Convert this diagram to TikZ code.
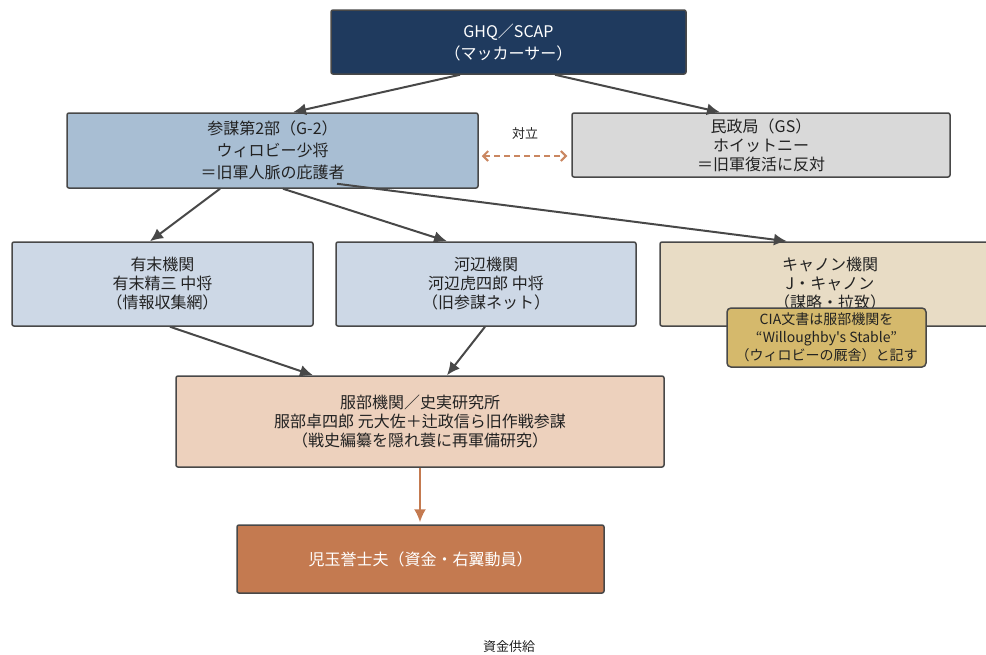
\documentclass[tikz,border=0pt]{standalone}
\usepackage{fontspec}
\setmainfont{Noto Sans CJK JP}[Ligatures=TeXOff]
\usetikzlibrary{arrows.meta}
\definecolor{navy}{HTML}{1F3A5E}
\definecolor{steel}{HTML}{A8BED3}
\definecolor{lightgray}{HTML}{D9D9D9}
\definecolor{paleblue}{HTML}{CDD8E6}
\definecolor{sand}{HTML}{E8DCC5}
\definecolor{ochre}{HTML}{D5B96C}
\definecolor{peach}{HTML}{EDD1BD}
\definecolor{rust}{HTML}{C47A50}
\definecolor{edgegray}{HTML}{484848}
\definecolor{textdark}{HTML}{222222}
\begin{document}
\begin{tikzpicture}[x=1pt, y=1pt,
    box/.style={draw=edgegray, line width=1.5pt, rounded corners=2pt, align=center,
      inner sep=0pt, text=textdark, font=\fontsize{16}{19}\selectfont},
    link/.style={draw=edgegray, line width=2pt, -{Latex[length=13pt,width=12pt]}},
    tag/.style={text=textdark, font=\fontsize{13}{16}\selectfont}]
    \path [use as bounding box, clip] (0,0) rectangle (986,-654);
    % top level
    \node (ghq) [box, fill=navy, text=white, minimum width=355pt, minimum height=64pt,
      font=\fontsize{16}{22}\selectfont] at (508.5,-42) {GHQ／SCAP\\（マッカーサー）};
    \node (g2) [box, fill=steel, minimum width=411pt, minimum height=75pt,
      font=\fontsize{16}{22}\selectfont] at (272.5,-150.5)
      {参謀第2部（G-2）\\ウィロビー少将\\＝旧軍人脈の庇護者};
    \node (gs) [box, fill=lightgray, minimum width=378pt, minimum height=64pt] at (761,-145)
      {民政局（GS）\\ホイットニー\\＝旧軍復活に反対};
    \node (rival) [tag] at (525,-134) {対立};
    % agencies
    \node (arisue) [box, fill=paleblue, minimum width=301pt, minimum height=84pt] at (162.5,-284)
      {有末機関\\有末精三 中将\\（情報収集網）};
    \node (kawabe) [box, fill=paleblue, minimum width=300pt, minimum height=84pt] at (486,-284)
      {河辺機関\\河辺虎四郎 中将\\（旧参謀ネット）};
    \node (cannon) [box, fill=sand, minimum width=340pt, minimum height=84pt] at (830,-284)
      {キャノン機関\\J・キャノン\\（謀略・拉致）};
    \node (cia) [box, fill=ochre, rounded corners=4pt, minimum width=199pt, minimum height=59pt,
      font=\fontsize{14}{18}\selectfont] at (826.5,-337.5)
      {CIA文書は服部機関を\\“Willoughby's Stable”\\（ウィロビーの厩舎）と記す};
    \node (hattori) [box, fill=peach, minimum width=488pt, minimum height=91pt] at (420,-421.5)
      {服部機関／史実研究所\\服部卓四郎 元大佐＋辻政信ら旧作戦参謀\\（戦史編纂を隠れ蓑に再軍備研究）};
    \node (kodama) [box, fill=rust, text=white, minimum width=367pt, minimum height=68pt] at (420.5,-559)
      {児玉誉士夫（資金・右翼動員）};
    \node (funds) [tag] at (509,-647) {資金供給};
    % connectors
    \draw [link] ([xshift=-48.5pt]ghq.south) -- ([xshift=20.5pt]g2.north);
    \draw [link] ([xshift=46.5pt]ghq.south) -- ([xshift=-41pt]gs.north);
    \draw [draw=rust!90!white, line width=2pt, dash pattern=on 6pt off 4pt,
      {Straight Barb[length=5pt,width=10pt]}-{Straight Barb[length=5pt,width=10pt]}]
      ([xshift=3pt,yshift=-5.5pt]g2.east) -- ([xshift=-4pt,yshift=-11pt]gs.west);
    \draw [link] ([xshift=-52.5pt]g2.south) -- ([xshift=-12.5pt]arisue.north);
    \draw [link] ([xshift=10.5pt]g2.south) -- ([xshift=-39pt]kawabe.north);
    \draw [link] ([xshift=64.5pt,yshift=5pt]g2.south) -- ([xshift=-43pt]cannon.north);
    \draw [link] ([xshift=7.5pt]arisue.south) -- ([xshift=-107pt]hattori.north);
    \draw [link] ([xshift=-1pt]kawabe.south) -- ([xshift=27pt]hattori.north);
    \draw [link, draw=rust, shorten >=2pt]
      (hattori.south) -- (kodama.north -| hattori.south);
\end{tikzpicture}
\end{document}
